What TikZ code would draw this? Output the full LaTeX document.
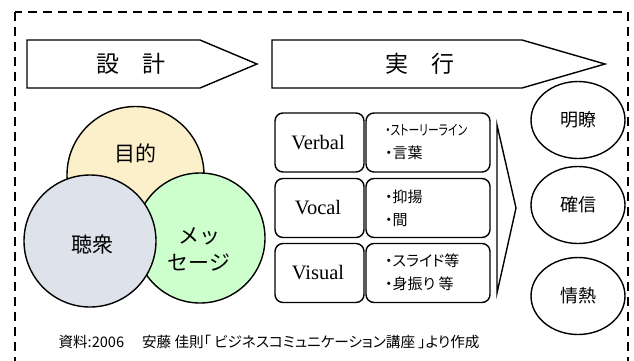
\documentclass[tikz,border=0pt]{standalone}
\usepackage{fontspec}
\setmainfont{Liberation Serif}
\newfontfamily\jp{Noto Sans CJK JP}
\newfontfamily\jpp[RawFeature=+palt]{Noto Sans CJK JP}
\usetikzlibrary{shapes.geometric}
\definecolor{cyel}{RGB}{252,240,202}
\definecolor{cgray}{RGB}{221,226,235}
\definecolor{cgreen}{RGB}{204,255,204}
\tikzset{
  shapeline/.style={draw=black, line width=1.4pt},
  venn/.style={circle, shapeline, inner sep=0pt},
  rbox/.style={shapeline, rounded corners=8pt},
  goal/.style={ellipse, shapeline, minimum width=94pt, minimum height=77pt, inner sep=0pt, font=\jp\fontsize{18}{18}\selectfont},
  bigjp/.style={font=\jp\fontsize{23}{23}\selectfont},
  venntext/.style={font=\jp\fontsize{21}{27}\selectfont, align=center},
  eng/.style={font=\fontsize{20.5}{20.5}\selectfont},
  bullets/.style={font=\jpp\fontsize{15}{23}\selectfont, align=left, anchor=west, inner sep=0pt},
  foot/.style={font=\jpp\fontsize{14.6}{14.6}\selectfont}
}
\begin{document}
\begin{tikzpicture}[x=1pt,y=-1pt]
\useasboundingbox (0,0) rectangle (634,360);
\clip (0,0) rectangle (634,360);
% dashed frame
\draw[line width=2pt, dash pattern=on 9pt off 6pt] (15,12) rectangle (628,400);
% arrow shapes
\draw[shapeline, fill=white] (27,40) -- (200,40) -- (257,64) -- (200,88) -- (27,88) -- cycle;
\node[bigjp] (design) at (131,64) {設　計};
\draw[shapeline, fill=white] (272,40) -- (522,40) -- (605,64) -- (522,88) -- (272,88) -- cycle;
\node[bigjp] (exec) at (420,64) {実　行};
% venn circles
\node[venn, fill=cyel, minimum size=137pt] (purpose) at (135.5,175) {};
\node[venn, fill=cgreen, minimum size=130pt] (message) at (200,238) {};
\node[venn, fill=cgray, minimum size=132pt] (audience) at (90,241) {};
\node[venntext] (purposeT) at (135,153) {目的};
\node[venntext] (audienceT) at (92,245) {聴衆};
\node[venntext] (messageT) at (199,249) {メッ\\セージ};
% boxes
\foreach \n/\t in {1/113, 2/178.5, 3/243.5}{
  \draw[rbox] (275,\t) rectangle (364,\t+59);
  \draw[rbox] (366,\t) rectangle (490,\t+59);
}
\node[eng] (verbal) at (318,142.5) {Verbal};
\node[eng] (vocal) at (318,208) {Vocal};
\node[eng] (visual) at (318,273) {Visual};
\node[bullets] (b1) at (385,142.5) {\scalebox{0.72}[0.95]{・ストーリーライン}\\・言葉};
\node[bullets] (b2) at (385,208) {・抑揚\\・間};
\node[bullets] (b3) at (385,272) {・スライド等\\・身振り 等};
% chevron
\draw[shapeline] (497,125) -- (516,208) -- (497,293) -- cycle;
% goals
\node[goal] (clear) at (578,120) {明瞭};
\node[goal] (conf) at (578,205) {確信};
\node[goal] (pass) at (578,296) {情熱};
% footer
\node[foot] (src) at (269,342) {資料:2006　 安藤 佳則「 ビジネスコミュニケーション講座 」より作成};
\end{tikzpicture}
\end{document}
